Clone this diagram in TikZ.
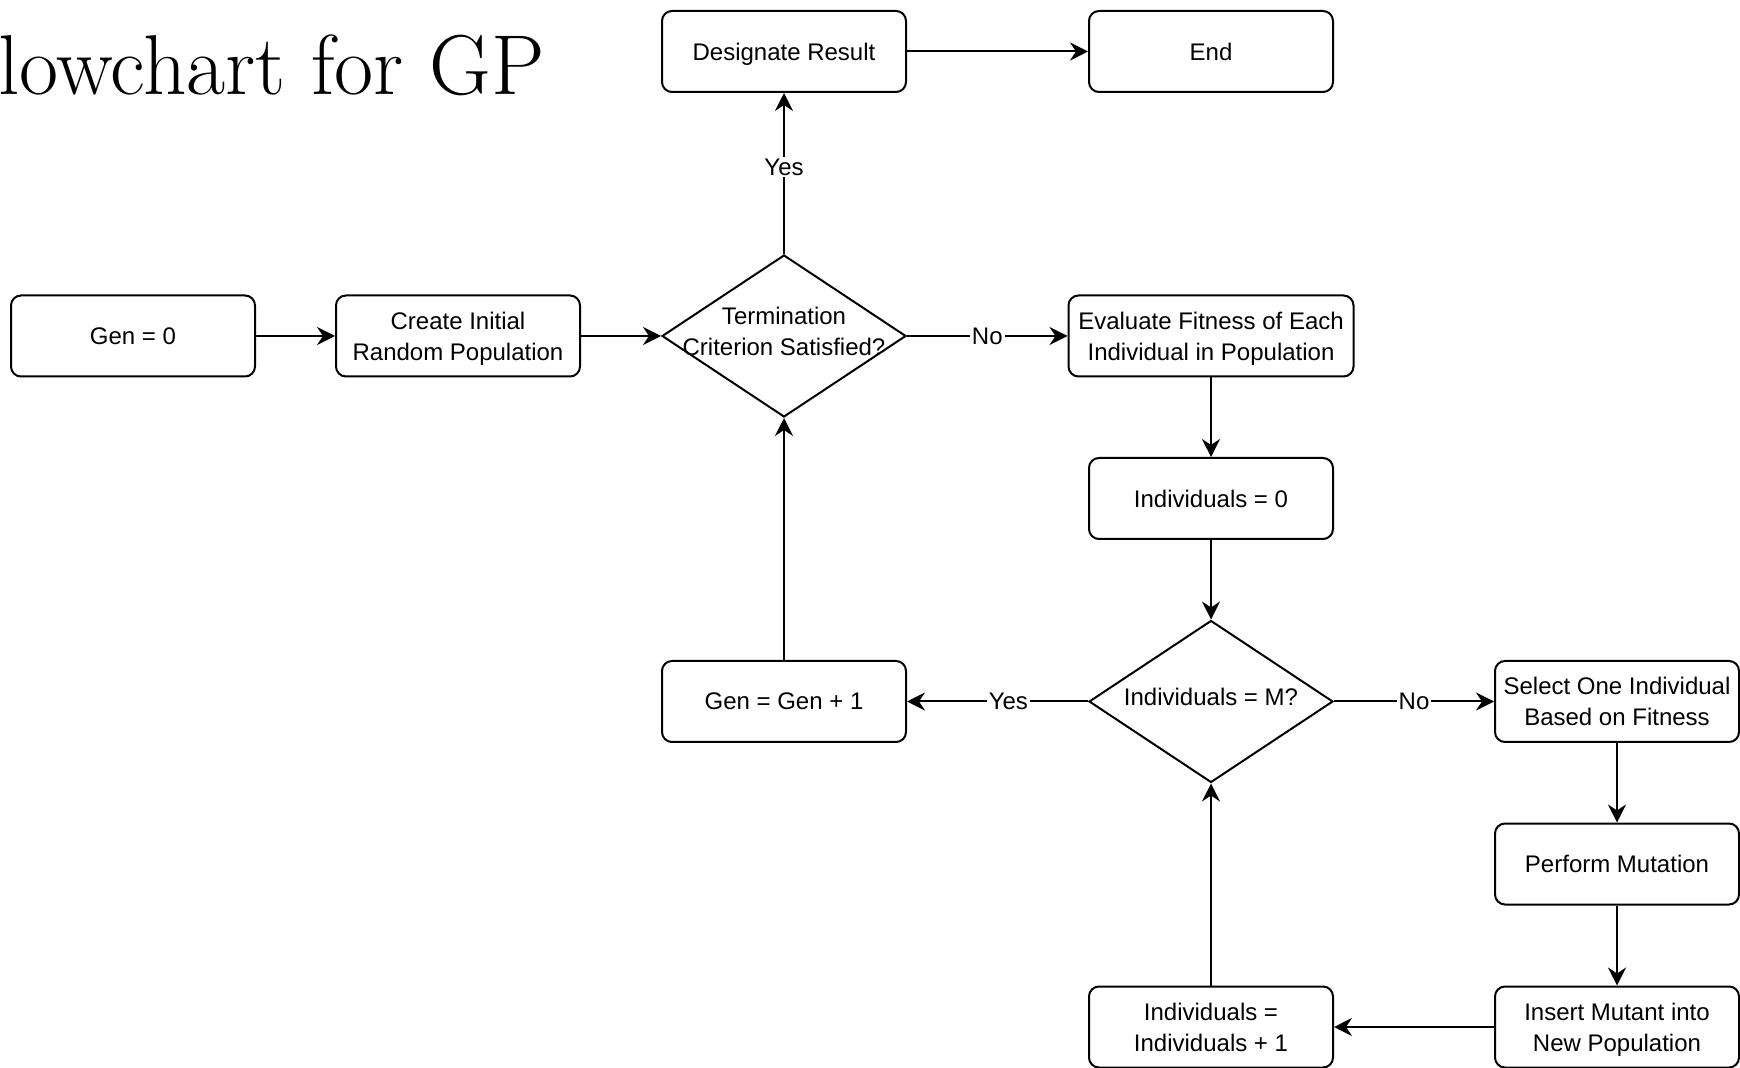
\documentclass[tikz,border=0pt]{standalone}
\usepackage{fontspec}
\newfontfamily\boxfont{Liberation Sans}
\usetikzlibrary{arrows.meta,shapes.geometric}
\begin{document}
\begin{tikzpicture}[x=0.5pt, y=-0.5pt, line width=1pt, >={Stealth[length=9pt,width=9pt,inset=3pt]},
    box/.style={draw, rounded corners=5pt, minimum width=122pt, minimum height=40.5pt, align=center, text depth=0pt, font=\boxfont\fontsize{12}{15.5}\selectfont},
    decision/.style={draw, diamond, minimum width=122pt, minimum height=81pt, inner sep=0pt},
    dtext/.style={align=center, yshift=2.2pt, font=\boxfont\fontsize{12}{15.5}\selectfont},
    lbl/.style={fill=white, inner sep=1pt, font=\boxfont\fontsize{12}{14}\selectfont}]
\useasboundingbox (0,0) rectangle (1740,1068);
\node[anchor=base west, inner sep=0pt, font=\fontsize{42.5}{50}\selectfont] (title) at (-3,95) {lowchart for GP};
    \node[box] (gen0) at (133,336) {Gen = 0};
    \node[box] (create) at (458,336) {Create Initial\\Random Population};
    \node[decision, label={[dtext]center:Termination\\Criterion Satisfied?}] (term) at (784,336) {};
    \node[box] (designate) at (784,51.5) {Designate Result};
    \node[box] (end) at (1211,51.5) {End};
    \node[box, minimum width=142.5pt] (evaluate) at (1211,336) {Evaluate Fitness of Each\\Individual in Population};
    \node[box] (ind0) at (1211,498.5) {Individuals = 0};
    \node[decision, label={[dtext]center:Individuals = M?}] (indM) at (1211,701.5) {};
    \node[box] (geninc) at (784,701.5) {Gen = Gen + 1};
    \node[box] (select) at (1617,701.5) {Select One Individual\\Based on Fitness};
    \node[box] (mutate) at (1617,864) {Perform Mutation};
    \node[box] (insert) at (1617,1027) {Insert Mutant into\\New Population};
    \node[box] (indinc) at (1211,1027) {Individuals =\\Individuals + 1};
    \draw[->] (gen0) -- (create);
    \draw[->] (create) -- (term);
    \draw[->] (term) -- node[lbl, pos=.54]{Yes} (designate);
    \draw[->] (designate) -- (end);
    \draw[->] (term) -- node[lbl]{No} (evaluate);
    \draw[->] (evaluate) -- (ind0);
    \draw[->] (ind0) -- (indM);
    \draw[->] (indM) -- node[lbl, pos=.44]{Yes} (geninc);
    \draw[->] (geninc) -- (term);
    \draw[->] (indM) -- node[lbl]{No} (select);
    \draw[->] (select) -- (mutate);
    \draw[->] (mutate) -- (insert);
    \draw[->] (insert) -- (indinc);
    \draw[->] (indinc) -- (indM);
\end{tikzpicture}
\end{document}
